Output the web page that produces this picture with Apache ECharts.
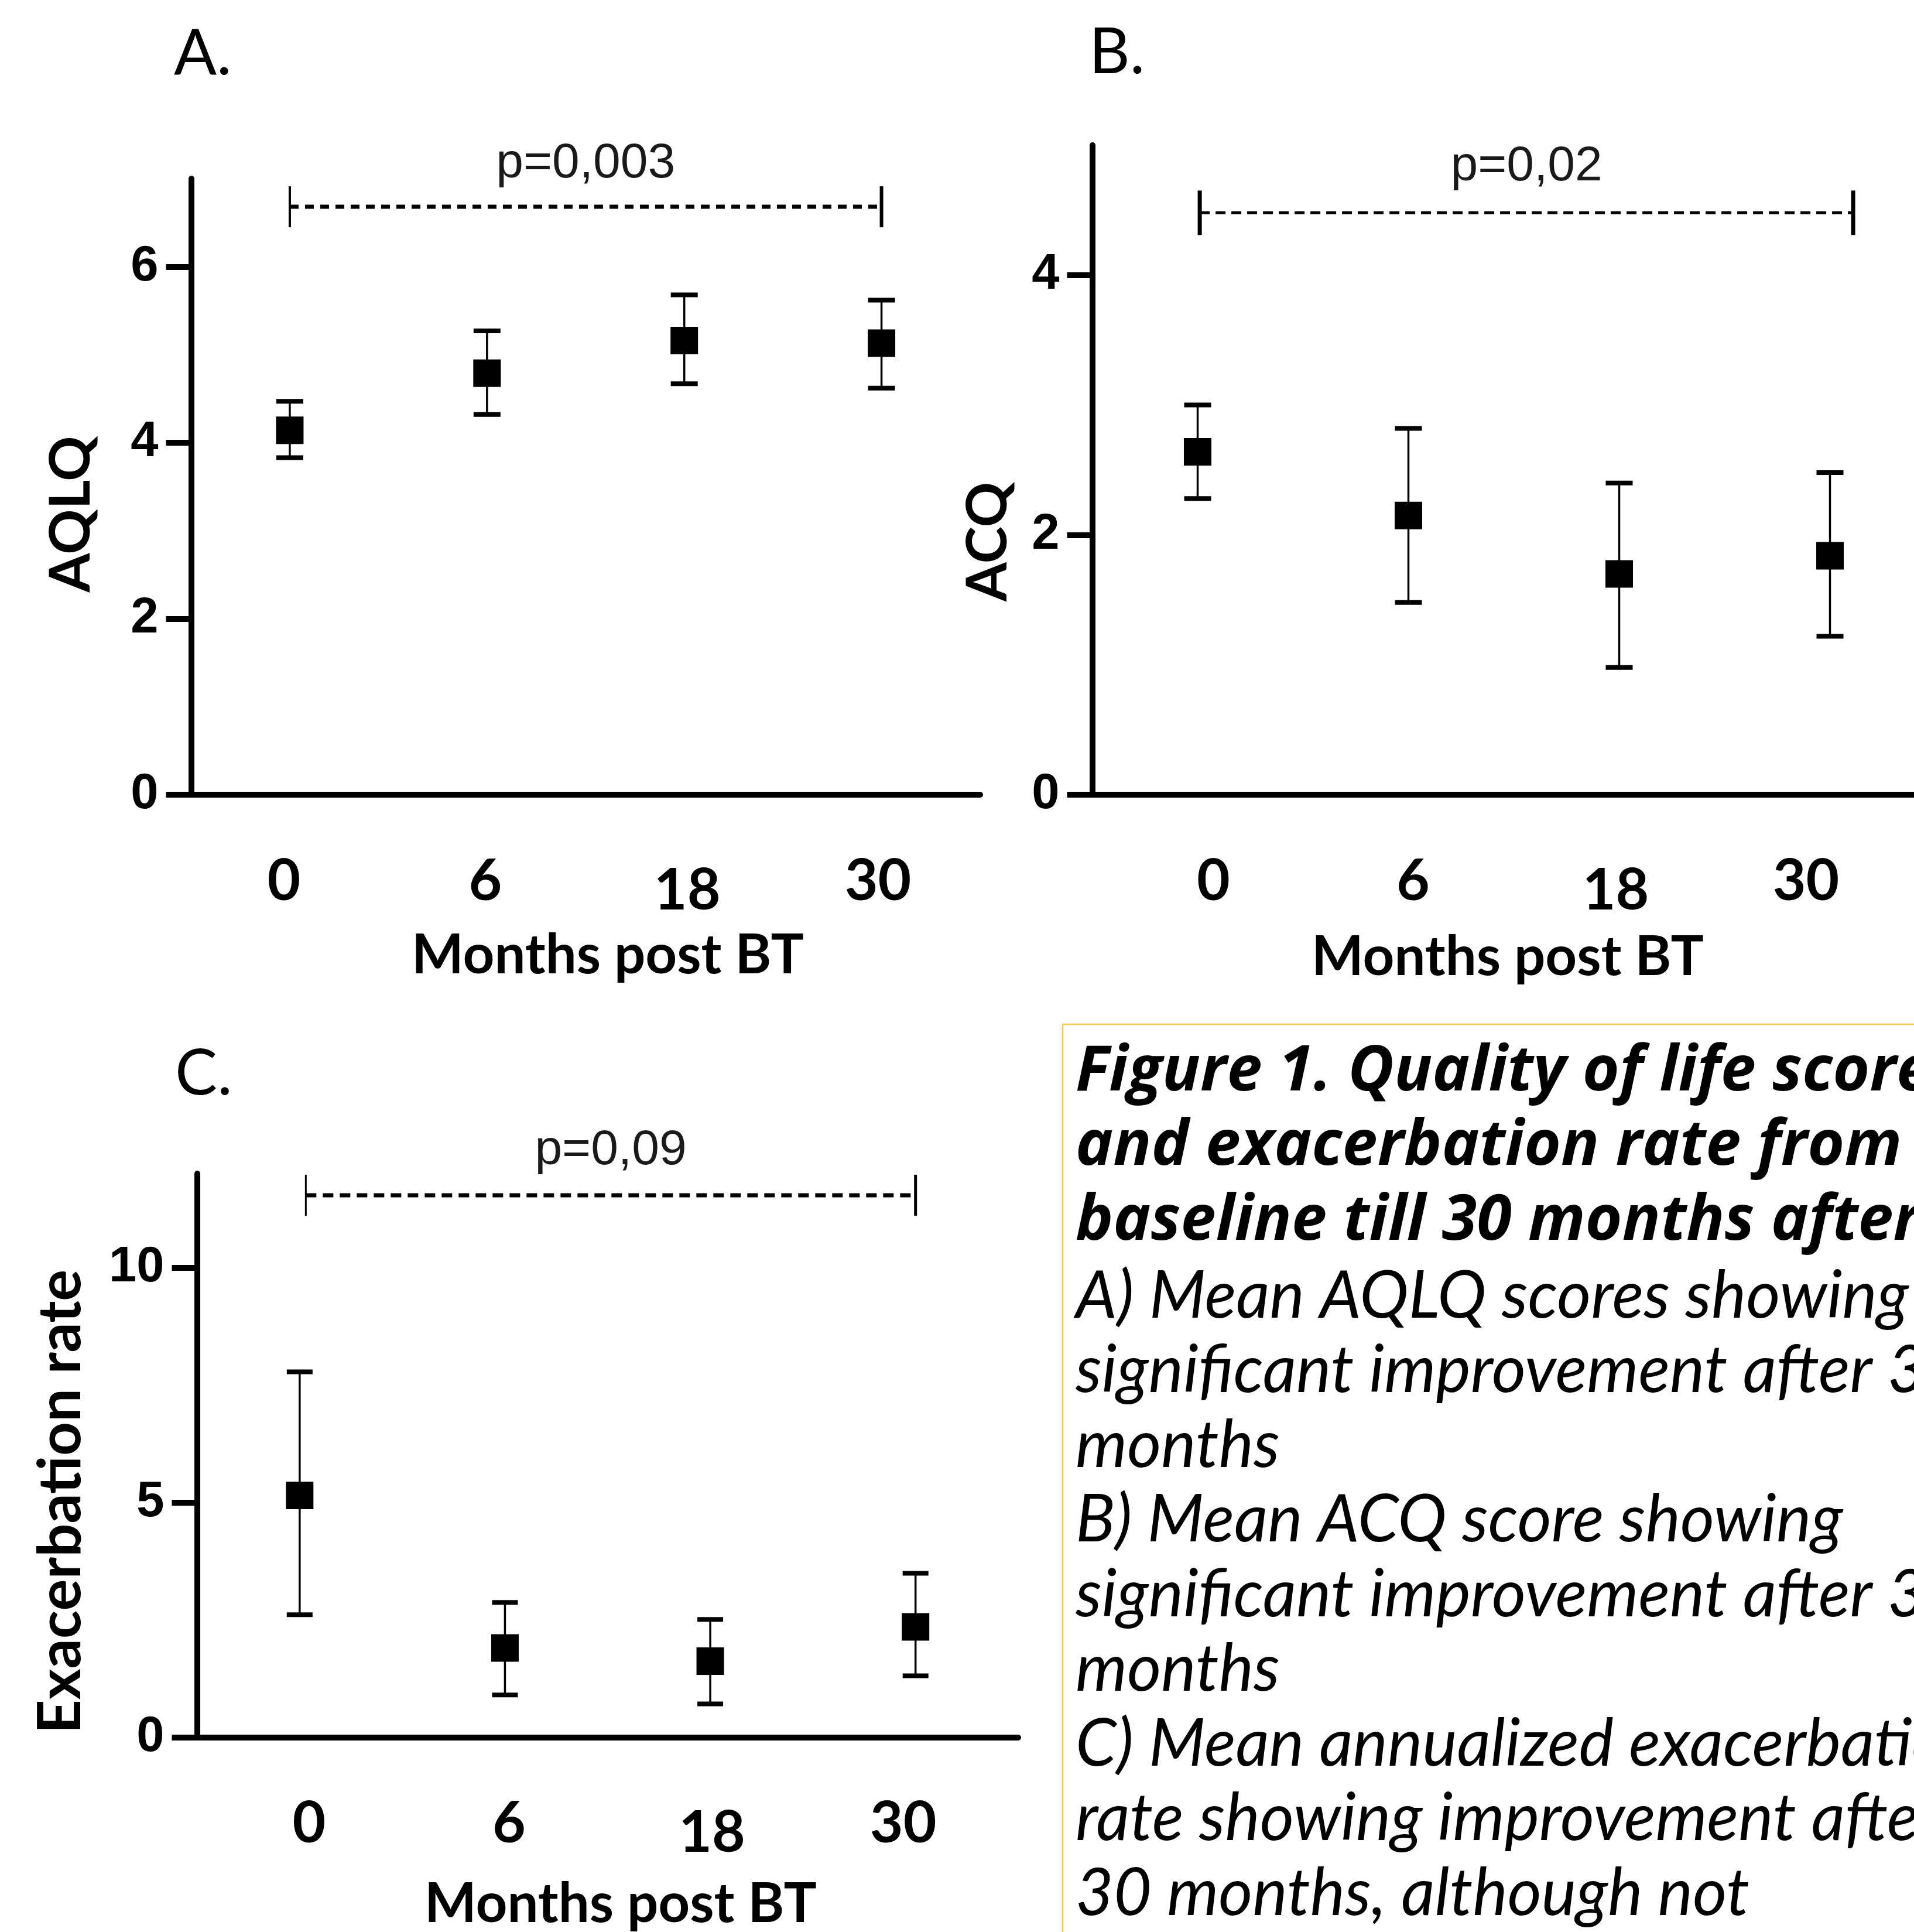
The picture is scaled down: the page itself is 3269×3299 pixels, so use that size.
<!DOCTYPE html>
<html>
<head>
<meta charset="utf-8">
<script src="https://cdn.jsdelivr.net/npm/echarts@6/dist/echarts.min.js"></script>
<style>
  html, body { margin: 0; padding: 0; background: #fff; }
  #chart { width: 3269px; height: 3299px; }
</style>
</head>
<body>
<div id="chart"></div>
<script>
// months after BT (category axis of every panel)
var months = ['0', '6', '18', '30'];

// A. AQLQ mean and error bar ends
var aqlqMean = [4.14, 4.79, 5.16, 5.13];
var aqlqLow  = [3.83, 4.32, 4.67, 4.62];
var aqlqHigh = [4.47, 5.27, 5.68, 5.62];

// B. ACQ
var acqMean = [2.64, 2.15, 1.70, 1.84];
var acqLow  = [2.28, 1.48, 0.98, 1.22];
var acqHigh = [3.00, 2.82, 2.40, 2.48];

// C. exacerbation rate
var exaMean = [5.15, 1.90, 1.62, 2.35];
var exaLow  = [2.61, 0.90, 0.71, 1.31];
var exaHigh = [7.78, 2.87, 2.51, 3.49];

// y tick labels
var yTicksA = [0, 2, 4, 6];
var yTicksB = [0, 2, 4];
var yTicksC = [0, 5, 10];

// significance brackets: [from index, to index, y value]
var bracketA = [0, 3, 6.68];
var bracketB = [0.01, 3.11, 4.48];
var bracketC = [0.03, 3.0, 11.54];
var pValues = ['p=0,003', 'p=0,02', 'p=0,09'];

var captionBold = [
  'Figure 1. Quality of life scores',
  'and exacerbation rate from',
  'baseline till 30 months after BT'
];
var captionText = [
  'A) Mean AQLQ scores showing',
  'significant improvement after 30',
  'months',
  'B) Mean ACQ score showing',
  'significant improvement after 30',
  'months',
  'C) Mean annualized exacerbation',
  'rate showing improvement after',
  '30 months, although not'
];

var FONT = 'Lato';
var NUM_FONT = '"Liberation Sans", Arial, sans-serif';

var panels = [
  { grid: { left: 326.5, top: 305, width: 1347.5, height: 1052 }, yMax: 7, yInt: 2, yTicks: yTicksA,
    mean: aqlqMean, low: aqlqLow, high: aqlqHigh, bracket: bracketA, p: pValues[0],
    labelShift: [-10, -3, 5, -6],
    dash: [15, 11], dashW: 7, tickW: [4, 6], tickH: 35, pGap: 73, capW: 46 },
  { grid: { left: 1865.5, top: 248, width: 1440, height: 1109 }, yMax: 5, yInt: 2, yTicks: yTicksB,
    mean: acqMean, low: acqLow, high: acqHigh, bracket: bracketB, p: pValues[1],
    labelShift: [27, 8, -6, -41],
    dash: [17, 10], dashW: 5, tickW: [7, 7], tickH: 38, pGap: 78, capW: 46 },
  { grid: { left: 336.5, top: 2004, width: 1402.5, height: 962.5 }, yMax: 12, yInt: 5, yTicks: yTicksC,
    mean: exaMean, low: exaLow, high: exaHigh, bracket: bracketC, p: pValues[2],
    labelShift: [16, 7, 3, -21],
    dash: [18, 11], dashW: 7, tickW: [3, 5], tickH: 35, pGap: 76, capW: 44 }
];

function errorBars(capW) {
  return function (params, api) {
    var i = api.value(0);
    var lo = api.coord([i, api.value(1)]);
    var hi = api.coord([i, api.value(2)]);
    var h = capW / 2;
    var cap = { stroke: '#000', lineWidth: 8 };
    return {
      type: 'group',
      children: [
        { type: 'line', shape: { x1: lo[0], y1: lo[1], x2: hi[0], y2: hi[1] }, style: { stroke: '#000', lineWidth: 3.5 } },
        { type: 'line', shape: { x1: hi[0] - h, y1: hi[1], x2: hi[0] + h, y2: hi[1] }, style: cap },
        { type: 'line', shape: { x1: lo[0] - h, y1: lo[1], x2: lo[0] + h, y2: lo[1] }, style: cap }
      ]
    };
  };
}

function bracketItem(p) {
  return function (params, api) {
    var a = api.coord([api.value(0), api.value(2)]);
    var b = api.coord([api.value(1), api.value(2)]);
    var y = a[1];
    return {
      type: 'group',
      children: [
        { type: 'line', shape: { x1: a[0], y1: y, x2: b[0], y2: y },
          style: { stroke: '#000', lineWidth: p.dashW, lineDash: p.dash } },
        { type: 'line', shape: { x1: a[0], y1: y - p.tickH, x2: a[0], y2: y + p.tickH },
          style: { stroke: '#000', lineWidth: p.tickW[0] } },
        { type: 'line', shape: { x1: b[0], y1: y - p.tickH, x2: b[0], y2: y + p.tickH },
          style: { stroke: '#000', lineWidth: p.tickW[1] } },
        { type: 'text', x: (a[0] + b[0]) / 2, y: y - p.pGap,
          style: { text: p.p, fontSize: 84, fontFamily: NUM_FONT, fill: '#1a1a1a',
                   align: 'center', verticalAlign: 'middle', textAlign: 'center', textVerticalAlign: 'middle' } }
      ]
    };
  };
}

// rich styles that nudge each month label like in the original figure
function monthRich(shift) {
  var rich = {};
  shift.forEach(function (d, i) {
    rich['s' + i] = {
      fontFamily: FONT, fontWeight: 'bold', fontSize: 98, color: '#000',
      padding: [i === 2 ? 16 : 0, d < 0 ? -2 * d : 0, 0, d > 0 ? 2 * d : 0]
    };
  });
  return rich;
}

var grids = [], xAxes = [], yAxes = [], series = [];
panels.forEach(function (p, k) {
  var g = p.grid;
  grids.push({ left: g.left, top: g.top, width: g.width, height: g.height, outerBoundsMode: 'none', containLabel: false });
  xAxes[k] = {
    type: 'category', gridIndex: k, data: months, boundaryGap: true,
    axisLine: { onZero: false, lineStyle: { color: '#000', width: 10 } },
    axisTick: { alignWithLabel: true, length: 48, lineStyle: { color: '#000', width: 10 } },
    axisLabel: {
      margin: 99, color: '#000', interval: 0,
      formatter: function (v, i) { return '{s' + i + '|' + v + '}'; },
      rich: monthRich(p.labelShift)
    },
    splitLine: { show: false }
  };
  // hidden value axis on the same grid, used to place the brackets
  xAxes[3 + k] = { type: 'value', gridIndex: k, min: -0.5, max: 3.5, show: false };
  yAxes.push({
    type: 'value', gridIndex: k, min: 0, max: p.yMax, interval: p.yInt,
    axisLine: { show: true, onZero: false, lineStyle: { color: '#000', width: 10 } },
    axisTick: { show: true, length: 43, customValues: p.yTicks, lineStyle: { color: '#000', width: 10 } },
    axisLabel: { margin: 56, customValues: p.yTicks, fontFamily: NUM_FONT, fontWeight: 'bold', fontSize: 85, color: '#000' },
    splitLine: { show: false }
  });
  series.push({
    type: 'custom', xAxisIndex: k, yAxisIndex: k, silent: true,
    renderItem: errorBars(p.capW),
    encode: { x: 0, y: [1, 2] },
    data: months.map(function (m, i) { return [i, p.low[i], p.high[i]]; }),
    z: 2
  });
  series.push({
    type: 'scatter', xAxisIndex: k, yAxisIndex: k, silent: true,
    symbol: 'rect', symbolSize: 47,
    itemStyle: { color: '#000', opacity: 1 },
    data: p.mean,
    z: 3
  });
  series.push({
    type: 'custom', xAxisIndex: 3 + k, yAxisIndex: k, silent: true, clip: false,
    renderItem: bracketItem(p),
    encode: { x: [0, 1], y: 2 },
    data: [p.bracket],
    z: 4
  });
});

function txt(x, y, s, size, opts) {
  opts = opts || {};
  return {
    type: 'text', x: x, y: y, rotation: opts.rotation || 0, silent: true,
    style: {
      text: s, fontFamily: opts.family || FONT, fontSize: size,
      fontWeight: opts.weight || 'normal', fontStyle: opts.style || 'normal',
      fill: '#000',
      align: opts.align || 'center', verticalAlign: 'middle',
      textAlign: opts.align || 'center', textVerticalAlign: 'middle'
    }
  };
}

var graphics = [
  txt(297, 92, 'A.', 108, { align: 'left' }),
  txt(1860, 90, 'B.', 108, { align: 'left' }),
  txt(299, 1834, 'C.', 108, { align: 'left' }),
  txt(122, 878, 'AQLQ', 96, { weight: 'bold', rotation: Math.PI / 2 }),
  txt(1688, 925, 'ACQ', 96, { weight: 'bold', rotation: Math.PI / 2 }),
  txt(104, 2564, 'Exacerbation rate', 101, { weight: 'bold', rotation: Math.PI / 2 }),
  txt(1038, 1632, 'Months post BT', 94, { weight: 'bold' }),
  txt(2575, 1635, 'Months post BT', 94, { weight: 'bold' }),
  txt(1060, 3252, 'Months post BT', 94, { weight: 'bold' }),
  {
    type: 'rect', silent: true,
    shape: { x: 1815, y: 1749, width: 2000, height: 2000 },
    style: { fill: 'none', stroke: '#FFC84A', lineWidth: 2.5 }
  }
];
captionBold.forEach(function (line, i) {
  graphics.push(txt(1837, 1831 + i * 127.5, line, 108, {
    align: 'left', style: 'italic', weight: 'bold', family: '"Open Sans", Lato, sans-serif'
  }));
});
captionText.forEach(function (line, i) {
  graphics.push(txt(1837, 1831 + (i + captionBold.length) * 127.5, line, 112, {
    align: 'left', style: 'italic', weight: 'normal'
  }));
});

var chart = echarts.init(document.getElementById('chart'), null, { renderer: 'canvas' });
chart.setOption({
  backgroundColor: '#fff',
  animation: false,
  grid: grids,
  xAxis: xAxes,
  yAxis: yAxes,
  series: series,
  graphic: { elements: graphics }
});
</script>
</body>
</html>
